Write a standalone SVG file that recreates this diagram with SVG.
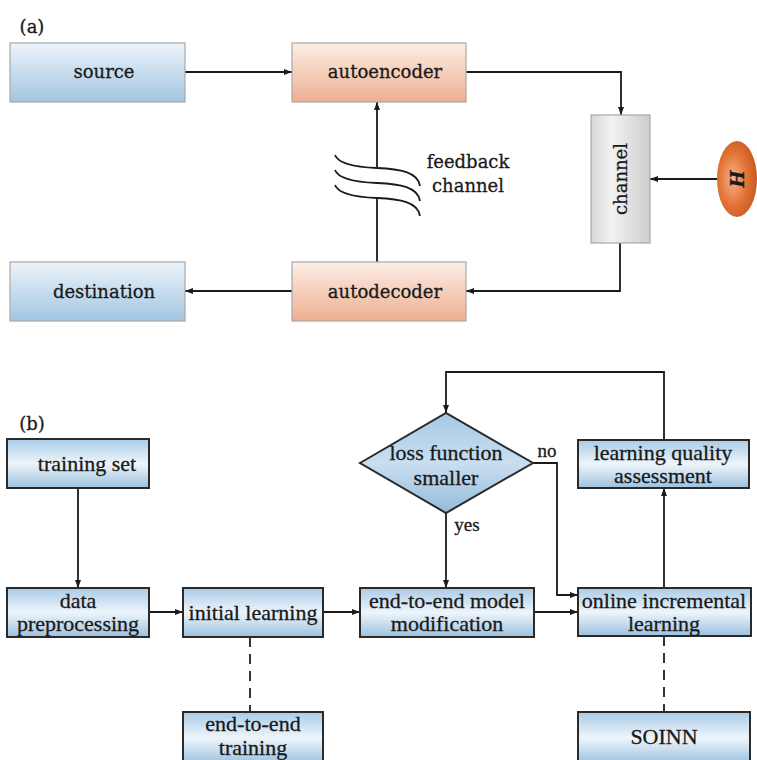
<svg xmlns="http://www.w3.org/2000/svg" width="757" height="760" viewBox="0 0 757 760">
<defs>
<linearGradient id="gBlueA" x1="0" y1="0" x2="0" y2="1"><stop offset="0" stop-color="#ecf3fa"/><stop offset="1" stop-color="#a2c6e2"/></linearGradient>
<linearGradient id="gOrange" x1="0" y1="0" x2="0" y2="1"><stop offset="0" stop-color="#fdeee6"/><stop offset="1" stop-color="#edaf90"/></linearGradient>
<linearGradient id="gGrey" x1="0" y1="0" x2="1" y2="0"><stop offset="0" stop-color="#d6d6d6"/><stop offset="0.35" stop-color="#f2f2f2"/><stop offset="1" stop-color="#cdcdcd"/></linearGradient>
<radialGradient id="gH" cx="0.4" cy="0.5" r="0.6"><stop offset="0" stop-color="#f6b28a"/><stop offset="0.6" stop-color="#e27234"/><stop offset="1" stop-color="#c85a22"/></radialGradient>
<linearGradient id="gBlueB" x1="0" y1="0" x2="0" y2="1"><stop offset="0" stop-color="#a9cbe7"/><stop offset="0.5" stop-color="#eef5fb"/><stop offset="1" stop-color="#9cc1df"/></linearGradient>
<linearGradient id="gDia" x1="0" y1="0" x2="0" y2="1"><stop offset="0" stop-color="#a6c9e5"/><stop offset="0.5" stop-color="#c9def0"/><stop offset="1" stop-color="#94bbdb"/></linearGradient>
<marker id="arr" viewBox="0 0 8 6" refX="8" refY="3" markerWidth="8" markerHeight="6" markerUnits="userSpaceOnUse" orient="auto"><path d="M0,0 L8,3 L0,6 z" fill="#1a1a1a"/></marker>
</defs>
<style>
.ta{font-family:"DejaVu Serif","Liberation Serif",serif;font-size:18px;fill:#1a1a1a;text-anchor:middle;stroke:#1a1a1a;stroke-width:0.3}
.tb{font-family:"Liberation Serif","Times New Roman",serif;font-size:22px;fill:#1a1a1a;text-anchor:middle;stroke:#1a1a1a;stroke-width:0.3}
.boxA{stroke:#a8a8a8;stroke-width:1.2}
.boxB{fill:url(#gBlueB);stroke:#2a2a2a;stroke-width:2}
.con{fill:none;stroke:#1a1a1a;stroke-width:1.8}
.arr{marker-end:url(#arr)}
.dash{fill:none;stroke:#333;stroke-width:2;stroke-dasharray:10 7}
</style>
<rect width="757" height="760" fill="#ffffff"/>
<text class="ta" x="32" y="33">(a)</text>
<text class="ta" x="32" y="430">(b)</text>
<g id="connectors">
<path class="con arr" d="M185,72 H292"/>
<path class="con arr" d="M466,72 H621 V115"/>
<path class="con arr" d="M718,179 H650"/>
<path class="con arr" d="M620,243 V291 H466"/>
<path class="con arr" d="M292,291 H185"/>
<path class="con" d="M377,262 V198"/>
<path class="con arr" d="M377,168 V102"/>
<path class="con" d="M335,155 C338,163 352,167 377,168 C400,169 418,172 420,186"/>
<path class="con" d="M335,170 C338,178 352,182 377,183 C400,184 418,187 420,201"/>
<path class="con" d="M335,185 C338,193 352,197 377,198 C400,199 418,202 420,216"/>
<path class="con arr" d="M78,488 V588"/>
<path class="con arr" d="M149,612 H183"/>
<path class="con arr" d="M323,612 H360"/>
<path class="con arr" d="M534,612 H578"/>
<path class="con arr" d="M446,513 V588"/>
<path class="con arr" d="M533,463 H557 V595 H578"/>
<path class="con arr" d="M664,588 V488"/>
<path class="con arr" d="M664,440 V372 H446 V413"/>
<path class="dash" d="M250,637 V712"/>
<path class="dash" d="M664,636 V712"/>
</g>
<text class="ta" x="468" y="168">feedback</text>
<text class="ta" x="468" y="192">channel</text>
<text class="tb" x="547" y="457" style="font-size:19px">no</text>
<text class="tb" x="467" y="531" style="font-size:19px">yes</text>
<g id="source"><rect class="boxA" x="10" y="43" width="175" height="59" fill="url(#gBlueA)"/><text class="ta" x="104" y="78">source</text></g>
<g id="autoencoder"><rect class="boxA" x="292" y="43" width="174" height="59" fill="url(#gOrange)"/><text class="ta" x="385" y="78">autoencoder</text></g>
<g id="channel"><rect class="boxA" x="591" y="115" width="59" height="128" fill="url(#gGrey)"/><text class="ta" transform="translate(627,179) rotate(-90)" x="0" y="0">channel</text></g>
<g id="H"><ellipse cx="737" cy="179" rx="20" ry="38" fill="url(#gH)"/><text class="ta" transform="translate(738,179) rotate(-90)" x="0" y="6" style="font-style:italic;font-weight:bold">H</text></g>
<g id="destination"><rect class="boxA" x="10" y="262" width="175" height="59" fill="url(#gBlueA)"/><text class="ta" x="104" y="298">destination</text></g>
<g id="autodecoder"><rect class="boxA" x="292" y="262" width="174" height="59" fill="url(#gOrange)"/><text class="ta" x="385" y="298">autodecoder</text></g>
<g id="training-set"><rect class="boxB" x="7" y="439" width="142" height="49"/><text class="tb" x="87" y="471">training set</text></g>
<g id="data-preprocessing"><rect class="boxB" x="7" y="588" width="142" height="49"/><text class="tb" x="78" y="608">data</text><text class="tb" x="78" y="631">preprocessing</text></g>
<g id="initial-learning"><rect class="boxB" x="183" y="588" width="140" height="49"/><text class="tb" x="253" y="620">initial learning</text></g>
<g id="end-to-end-model"><rect class="boxB" x="360" y="588" width="174" height="49"/><text class="tb" x="447" y="608">end-to-end model</text><text class="tb" x="447" y="631">modification</text></g>
<g id="online-incremental"><rect class="boxB" x="578" y="588" width="173" height="48"/><text class="tb" x="664" y="608">online incremental</text><text class="tb" x="664" y="631">learning</text></g>
<g id="end-to-end-training"><rect class="boxB" x="183" y="712" width="140" height="52"/><text class="tb" x="253" y="731">end-to-end</text><text class="tb" x="253" y="755">training</text></g>
<g id="soinn"><rect class="boxB" x="578" y="712" width="172" height="52"/><text class="tb" x="664" y="744">SOINN</text></g>
<g id="learning-quality"><rect class="boxB" x="578" y="440" width="171" height="48"/><text class="tb" x="663" y="460">learning quality</text><text class="tb" x="663" y="483">assessment</text></g>
<g id="loss-function"><path d="M360,463 L446,413 L533,463 L446,513 Z" fill="url(#gDia)" stroke="#2a2a2a" stroke-width="2"/><text class="tb" x="446" y="460">loss function</text><text class="tb" x="446" y="485">smaller</text></g>
</svg>
